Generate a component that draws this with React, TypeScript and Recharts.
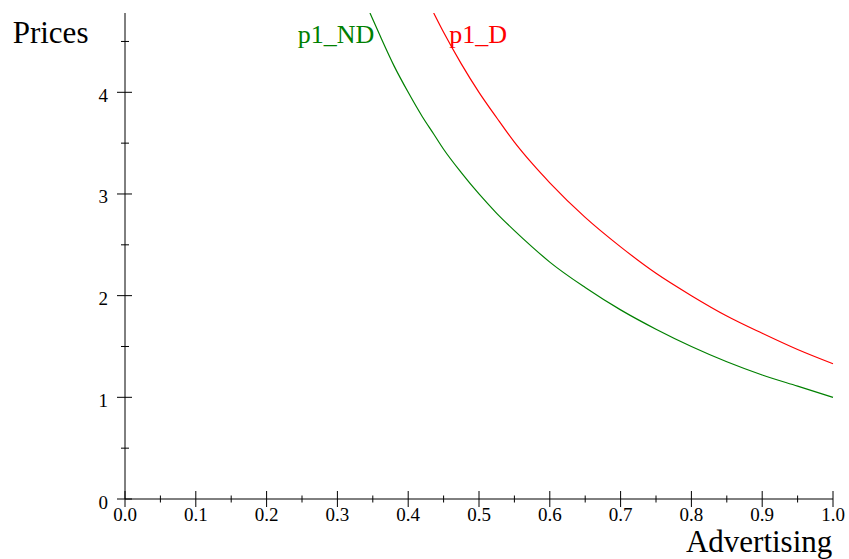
import React from 'react';
import { LineChart, Line, XAxis, YAxis } from 'recharts';

// values
const advertising = [0.346, 0.36, 0.38, 0.4, 0.42, 0.436, 0.45, 0.475, 0.5, 0.525, 0.55, 0.575, 0.6, 0.65, 0.7, 0.75, 0.8, 0.85, 0.9, 0.95, 1.0];
const pricesND = [4.78, 4.56, 4.26, 4.0, 3.76, 3.59, 3.44, 3.21, 3.0, 2.81, 2.64, 2.48, 2.33, 2.08, 1.86, 1.67, 1.5, 1.35, 1.22, 1.11, 1.0];
const pricesD = [null, null, null, null, null, 4.78, 4.59, 4.28, 4.0, 3.75, 3.51, 3.3, 3.11, 2.77, 2.48, 2.22, 2.0, 1.8, 1.63, 1.47, 1.33];

const xTicks = [0, 0.05, 0.1, 0.15, 0.2, 0.25, 0.3, 0.35, 0.4, 0.45, 0.5, 0.55, 0.6, 0.65, 0.7, 0.75, 0.8, 0.85, 0.9, 0.95, 1.0];
const yTicks = [0, 0.5, 1, 1.5, 2, 2.5, 3, 3.5, 4, 4.5];

const FONT = '"Liberation Serif", "Times New Roman", serif';

const data = advertising.map((x, i) => ({ x, nd: pricesND[i], d: pricesD[i] }));

const isMajor = (v: number, step: number) => Math.abs(Math.round(v / step) * step - v) < 1e-6;

const XTick = (props: any) => {
  const { x, y, payload } = props;
  const major = isMajor(payload.value, 0.1);
  return (
    <g>
      <line x1={x} x2={x} y1={major ? y - 8 : y - 3.5} y2={major ? y + 8 : y + 3.5} stroke="#000" strokeWidth={1} />
      {major && (
        <text x={x} y={y + 22} textAnchor="middle" fontSize={19} fontFamily={FONT} fill="#000">
          {payload.value.toFixed(1)}
        </text>
      )}
    </g>
  );
};

const YTick = (props: any) => {
  const { x, y, payload } = props;
  const major = isMajor(payload.value, 1);
  return (
    <g>
      <line x1={major ? x - 8 : x - 4} x2={major ? x + 7 : x + 4} y1={y} y2={y} stroke="#000" strokeWidth={1} />
      {major && (
        <text x={x - 17} y={y + 9.5} textAnchor="end" fontSize={19} fontFamily={FONT} fill="#000">
          {payload.value}
        </text>
      )}
    </g>
  );
};

export default function App() {
  return (
    <div style={{ position: 'absolute', left: 0, top: 0, width: 849, height: 559, background: '#fff' }}>
      <LineChart width={849} height={559} data={data} margin={{ top: 13, right: 16, bottom: 0, left: 0 }}>
        <XAxis
          dataKey="x"
          type="number"
          domain={[0, 1]}
          ticks={xTicks}
          interval={0}
          height={60}
          tickSize={0}
          tickMargin={0}
          tickLine={false}
          axisLine={{ stroke: '#000', strokeWidth: 1 }}
          tick={<XTick />}
        />
        <YAxis
          type="number"
          domain={[0, 4.78]}
          allowDataOverflow
          ticks={yTicks}
          interval={0}
          width={125}
          tickSize={0}
          tickMargin={0}
          tickLine={false}
          axisLine={{ stroke: '#000', strokeWidth: 1 }}
          tick={<YTick />}
        />
        <Line dataKey="nd" type="monotone" stroke="#008000" strokeWidth={1.2} dot={false} isAnimationActive={false} />
        <Line dataKey="d" type="monotone" stroke="#ff0000" strokeWidth={1.2} dot={false} isAnimationActive={false} />
      </LineChart>
      <svg width={849} height={559} style={{ position: 'absolute', left: 0, top: 0, pointerEvents: 'none' }}>
        <text x={12.7} y={42.7} fontSize={31} fontFamily={FONT} fill="#000">Prices</text>
        <text x={832.3} y={551.7} fontSize={31} fontFamily={FONT} fill="#000" textAnchor="end">Advertising</text>
        <text x={297.7} y={43.3} fontSize={26} fontFamily={FONT} fill="#008000">p1_ND</text>
        <text x={449.3} y={42.7} fontSize={26} fontFamily={FONT} fill="#ff0000">p1_D</text>
      </svg>
    </div>
  );
}
